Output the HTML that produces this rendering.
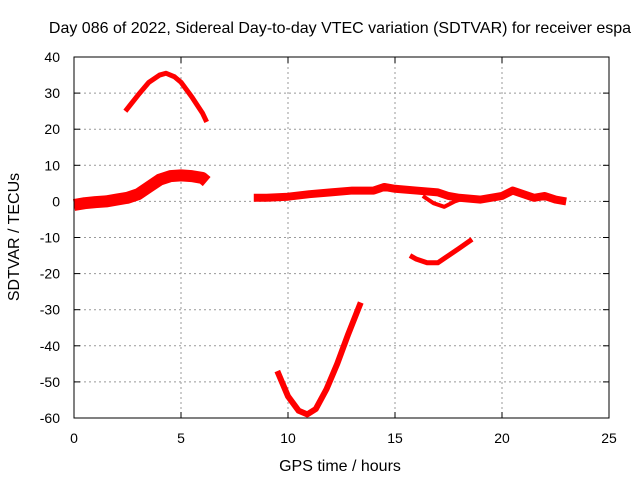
<!DOCTYPE html>
<html><head><meta charset="utf-8"><style>
body{margin:0;background:#fff}
svg text{font-family:"Liberation Sans",sans-serif;font-size:14px;fill:#000}
svg text.big{font-size:16px}
</style></head><body>
<svg id="c" width="640" height="480">
<text class="big" x="340" y="33" text-anchor="middle">Day 086 of 2022, Sidereal Day-to-day VTEC variation (SDTVAR) for receiver espa</text>
<text class="big" x="340" y="471" text-anchor="middle">GPS time / hours</text>
<text class="big" transform="translate(19,237) rotate(-90)" text-anchor="middle">SDTVAR / TECUs</text>
<g id="grid"></g><g id="series"></g>
<rect x="74" y="57" width="535" height="361" fill="none" stroke="#000"/>
</svg>
<script>
const xTicks=[0,5,10,15,20,25];
const yTicks=[40,30,20,10,0,-10,-20,-30,-40,-50,-60];
const bandA_t=[0,0.5,1,1.5,2,2.5,3,3.5,4,4.5,5,5.5,6,6.2];
const bandA_v=[-1,-0.5,-0.2,0,0.5,1,2,4,6,7,7.2,7,6.5,5.5];
const bandB_t=[8.4,9,10,11,12,13,14,14.5,15,16,17,17.5,18,19,20,20.5,21,21.5,22,22.5,23];
const bandB_v=[1,1,1.3,2,2.5,3,3,4,3.5,3,2.5,1.5,1,0.5,1.5,3,2,1,1.5,0.5,0];
const arc1_t=[2.4,3,3.5,4,4.3,4.7,5,5.5,6,6.2];
const arc1_v=[25,29.5,33,35,35.5,34.5,33,29,24.5,22];
const arc2_t=[9.5,10,10.5,10.9,11.3,11.8,12.3,12.8,13.4];
const arc2_v=[-47,-54,-58,-59,-57.5,-52,-45,-37,-28];
const arc3_t=[15.7,16,16.5,17,17.5,18,18.6];
const arc3_v=[-15,-16,-17,-17,-15,-13,-10.5];
const loop_t=[16.3,16.8,17.3,17.8,18.3];
const loop_v=[1.5,-0.5,-1.5,0,1];
const X=t=>74+t*535/25, Y=v=>57+(40-v)*361/100;
const NS="http://www.w3.org/2000/svg";
const g=document.getElementById('grid'), s=document.getElementById('series');
function el(p,tag,a){const e=document.createElementNS(NS,tag);for(const k in a)e.setAttribute(k,a[k]);p.appendChild(e);return e;}
xTicks.forEach(t=>{const x=X(t);
 if(t>0&&t<25){const l=el(g,'line',{x1:x,x2:x,y1:57,y2:418,stroke:'#999','stroke-dasharray':'2,3'});
 
 }
 el(g,'line',{x1:x,x2:x,y1:418,y2:412,stroke:'#000'});el(g,'line',{x1:x,x2:x,y1:57,y2:63,stroke:'#000'});
 const tx=el(g,'text',{x:x,y:443,'text-anchor':'middle'});tx.textContent=t;
 
 });
yTicks.forEach(v=>{const y=Y(v);
 if(v<40&&v>-60){const l=el(g,'line',{x1:74,x2:609,y1:y,y2:y,stroke:'#999','stroke-dasharray':'2,3'});
 
 }
 el(g,'line',{x1:74,x2:80,y1:y,y2:y,stroke:'#000'});el(g,'line',{x1:609,x2:603,y1:y,y2:y,stroke:'#000'});
 const tx=el(g,'text',{x:60,y:y+5,'text-anchor':'end'});tx.textContent=v;
 
 });
function line(t,v,w,name){const p=el(s,'polyline',{points:t.map((a,i)=>X(a)+','+Y(v[i])).join(' '),fill:'none',stroke:'#f00','stroke-width':w,'stroke-linejoin':'round','stroke-linecap':'butt'});
 
 }
line(bandA_t,bandA_v,12,'series-band-a');
line(bandB_t,bandB_v,8,'series-band-b');
line(loop_t,loop_v,4,'series-loop');
line(arc1_t,arc1_v,5,'series-arc-1');
line(arc2_t,arc2_v,6,'series-arc-2');
line(arc3_t,arc3_v,5,'series-arc-3');
</script>
</body></html>
